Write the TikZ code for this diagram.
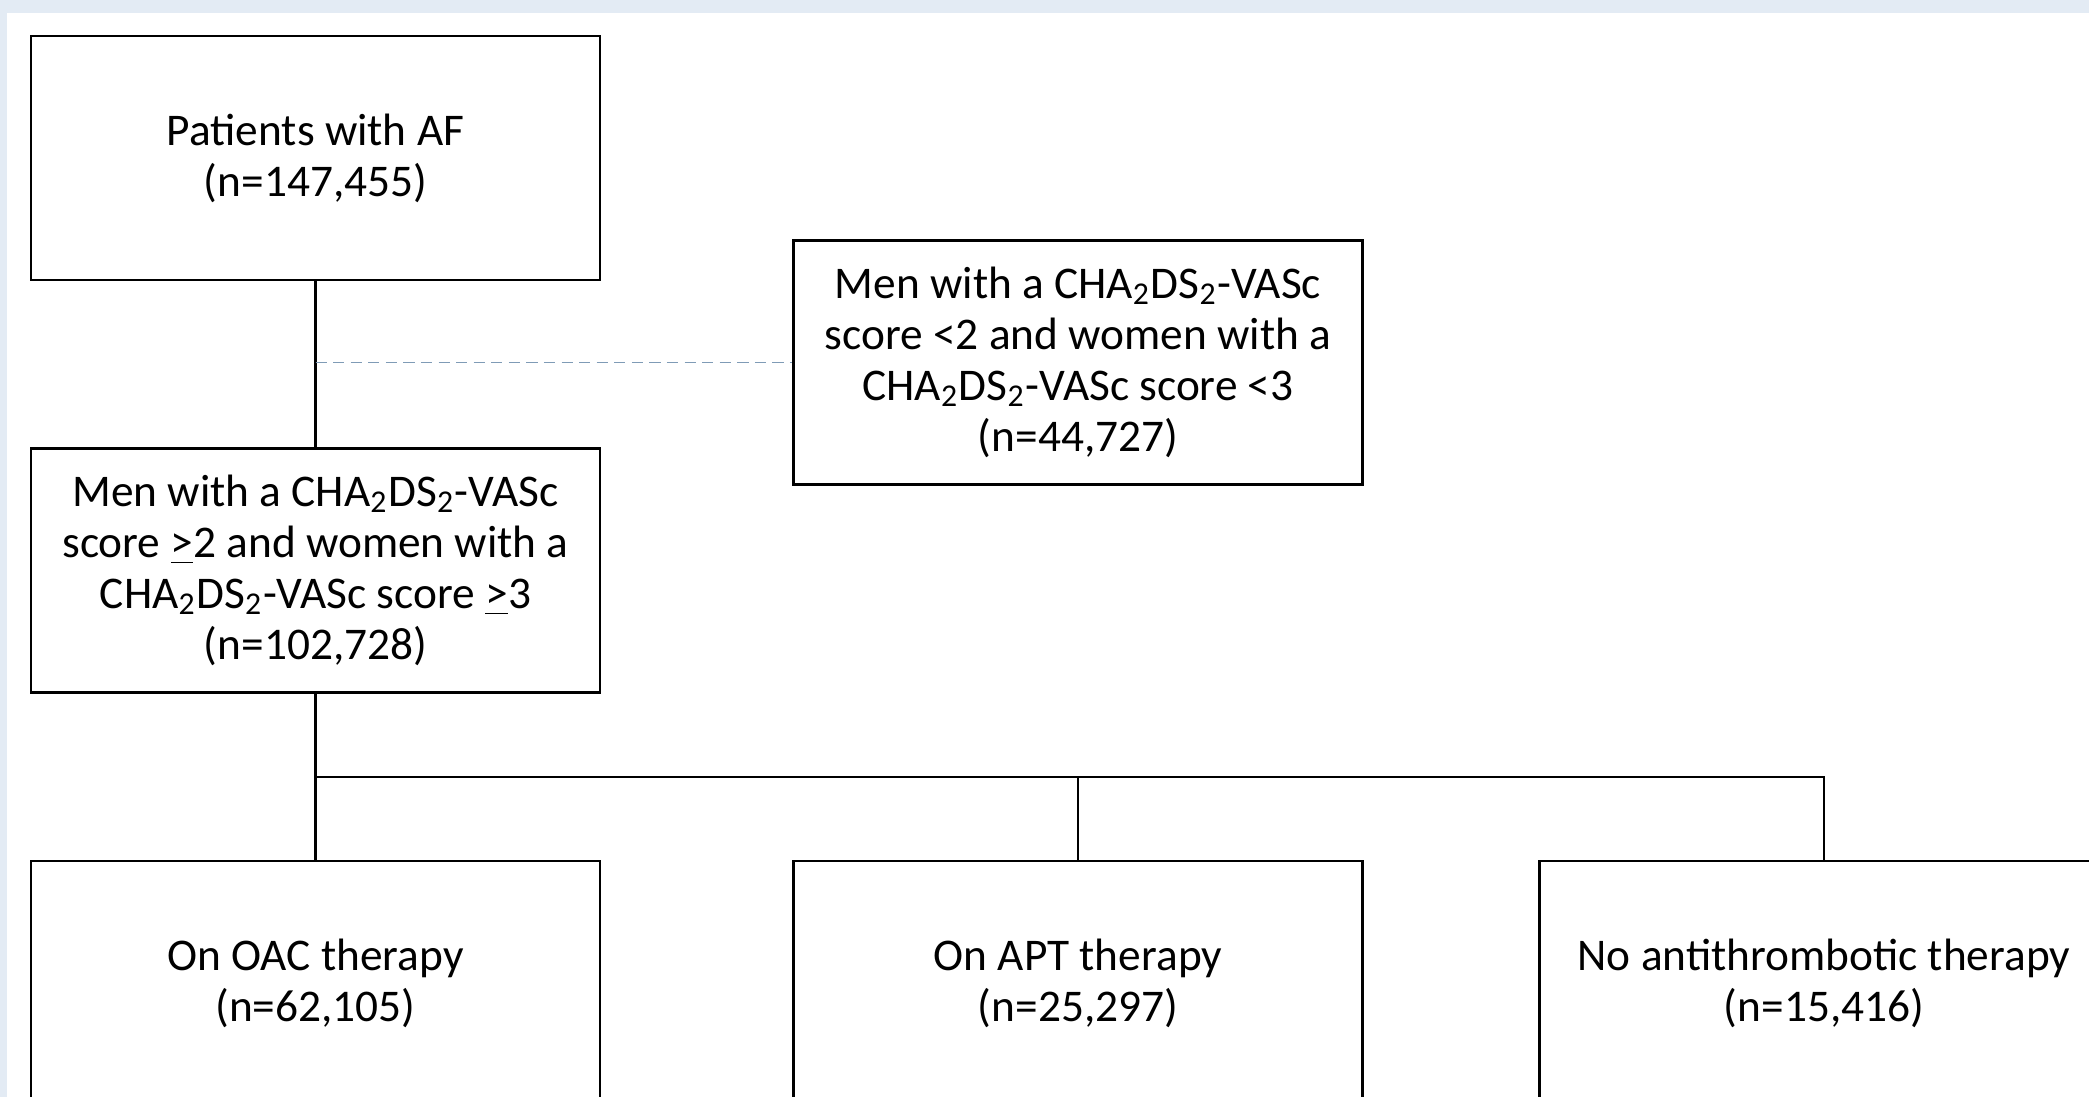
\documentclass[tikz,border=0pt]{standalone}
\usepackage{fontspec}
\setmainfont{Carlito}
\usepackage{tikz}
\usetikzlibrary{calc,positioning}

\definecolor{pageblue}{HTML}{E3EBF4}
\definecolor{dashblue}{HTML}{7F9BB6}

\tikzset{
  box/.style={draw=black, line width=0.6pt, fill=white, minimum width=5.69cm,
    minimum height=2.44cm, align=center, inner sep=2pt,
    font=\fontsize{12.9}{14.5}\selectfont},
  link/.style={draw=black, line width=0.6pt},
  skip/.style={draw=dashblue, line width=0.5pt, dash pattern=on 3.2pt off 1.8pt}
}

\begin{document}
\begin{tikzpicture}

\useasboundingbox (0,0) rectangle (20.89,-10.97);
\clip (0,0) rectangle (20.89,-10.97);

\fill[pageblue] (0,0) rectangle (20.89,-10.97);
\fill[white] (0.07,-0.13) rectangle (20.89,-10.97);

\node[box] (af) at (3.155,-1.58) {Patients with AF\\(n=147,455)};
\node[box] (excl) at (10.78,-3.625) {Men with a CHA\textsubscript{2}DS\textsubscript{2}-VASc\\score <2 and women with a\\CHA\textsubscript{2}DS\textsubscript{2}-VASc score <3\\(n=44,727)};
\node[box] (incl) at (3.155,-5.705) {Men with a CHA\textsubscript{2}DS\textsubscript{2}-VASc\\score \underline{>}2 and women with a\\CHA\textsubscript{2}DS\textsubscript{2}-VASc score \underline{>}3\\(n=102,728)};

\node[box] (oac) at (3.155,-9.83) {On OAC therapy\\(n=62,105)};
\node[box] (apt) at (10.78,-9.83) {On APT therapy\\(n=25,297)};
\node[box] (none) at (18.24,-9.83) {No antithrombotic therapy\\(n=15,416)};

\coordinate (split) at (3.155,-7.77);

\draw[link] (af.south) -- (incl.north);
\draw[skip] (af.south |- excl.west) -- (excl.west);

\draw[link] (incl.south) -- (oac.north);
\draw[link] (split) -| (apt.north);
\draw[link] (split) -| (none.north);
\end{tikzpicture}
\end{document}
